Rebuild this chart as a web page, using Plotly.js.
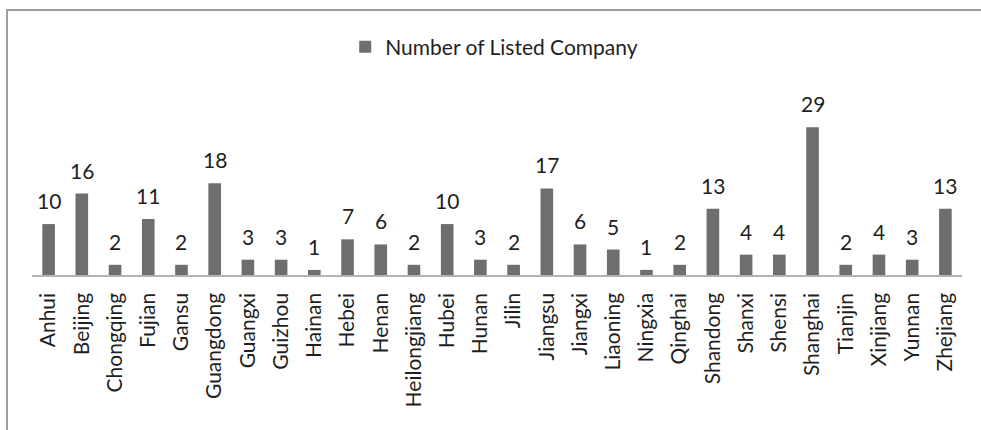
<!DOCTYPE html>
<html>
<head>
<meta charset="utf-8">
<script src="https://cdn.plot.ly/plotly-3.0.1.min.js"></script>
<style>
  html, body { margin: 0; padding: 0; background: #fff; overflow: hidden; }
  #chart { position: absolute; left: 0; top: 0; width: 981px; height: 430px; }
  #frame { position: absolute; left: 6px; top: 9px; width: 1100px; height: 600px;
           border-left: 2px solid #9d9d9d; border-top: 2px solid #9d9d9d; pointer-events: none; }
</style>
</head>
<body>
<div id="chart"></div>
<div id="frame"></div>
<script>
const provinces = ["Anhui","Beijing","Chongqing","Fujian","Gansu","Guangdong","Guangxi","Guizhou","Hainan","Hebei","Henan","Heilongjiang","Hubei","Hunan","Jilin","Jiangsu","Jiangxi","Liaoning","Ningxia","Qinghai","Shandong","Shanxi","Shensi","Shanghai","Tianjin","Xinjiang","Yunnan","Zhejiang"];
const companyCounts = [10,16,2,11,2,18,3,3,1,7,6,2,10,3,2,17,6,5,1,2,13,4,4,29,2,4,3,13];
const seriesName = "Number of Listed Company";

const FONT = "Lato, 'Open Sans', sans-serif";
const TXT = "#1f1f1f";

const trace = {
  type: "bar",
  x: provinces,
  y: companyCounts,
  name: seriesName,
  marker: { color: "#6e6e6e" },
  showlegend: true,
  hoverinfo: "x+y"
};

const annotations = provinces.map((p, i) => ({
  x: p, y: companyCounts[i], xref: "x", yref: "y",
  text: String(companyCounts[i]), showarrow: false,
  yanchor: "bottom", yshift: 9,
  font: { family: FONT, size: 21, color: TXT }
}));

const layout = {
  width: 981, height: 430,
  margin: { l: 32, r: 19, t: 112, b: 155, pad: 0 },
  paper_bgcolor: "#fff", plot_bgcolor: "#fff",
  bargap: 0.62,
  font: { family: FONT, size: 21, color: TXT },
  xaxis: {
    type: "category",
    showline: true, linecolor: "#b3b3b3", linewidth: 1.5,
    ticks: "", tickangle: -90, ticklabelstandoff: 8,
    tickfont: { family: FONT, size: 21, color: TXT },
    showgrid: false, zeroline: false, fixedrange: true
  },
  yaxis: { visible: false, range: [0, 32], showgrid: false, zeroline: false, fixedrange: true },
  showlegend: true,
  legend: {
    orientation: "h", x: 0.497, xanchor: "center",
    yref: "container", y: 1 - 47/430, yanchor: "middle",
    font: { family: FONT, size: 21, color: TXT },
    bgcolor: "rgba(0,0,0,0)"
  },
  annotations: annotations
};

Plotly.newPlot("chart", [trace], layout, { displayModeBar: false, staticPlot: true });
</script>
</body>
</html>
